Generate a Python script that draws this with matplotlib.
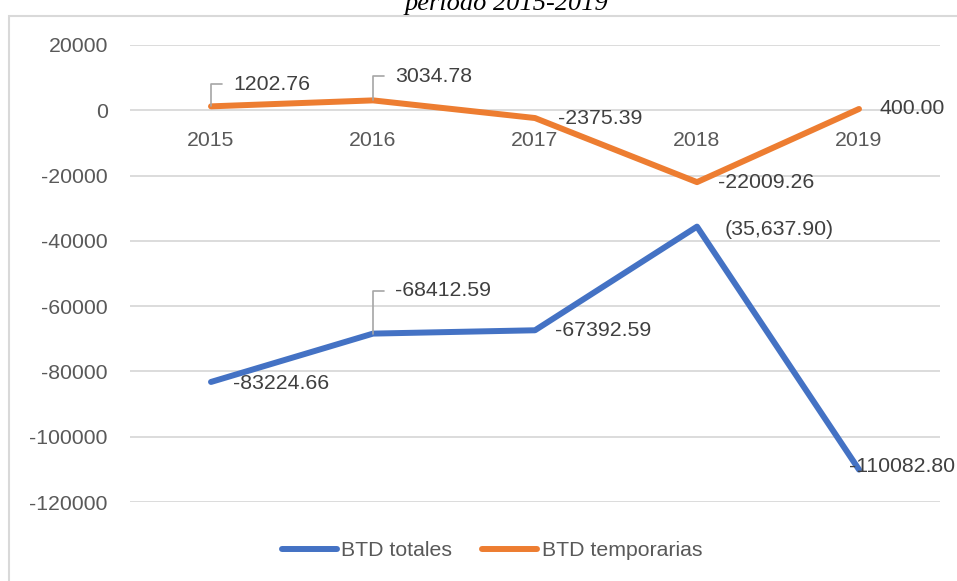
import matplotlib
matplotlib.use("Agg")
import matplotlib.pyplot as plt   # type: ignore
from matplotlib import font_manager
from matplotlib.patches import Rectangle

# data
years = ["2015", "2016", "2017", "2018", "2019"]
btd_totales = [-83224.66, -68412.59, -67392.59, -35637.90, -110082.80]
btd_temporarias = [1202.76, 3034.78, -2375.39, -22009.26, 400.00]
labels_totales = ["-83224.66", "-68412.59", "-67392.59", "(35,637.90)", "-110082.80"]
labels_temporarias = ["1202.76", "3034.78", "-2375.39", "-22009.26", "400.00"]
y_ticks = [20000, 0, -20000, -40000, -60000, -80000, -100000, -120000]

BLUE = "#4472C4"
ORANGE = "#ED7D31"
GRID = "#D9D9D9"
TXT = "#595959"
LBL = "#404040"

# pick a narrow sans (Calibri look) if there is one
names = {f.name for f in font_manager.fontManager.ttflist}
if "Liberation Sans Narrow" in names:
    FONT, FS = "Liberation Sans Narrow", 17.5
else:
    FONT, FS = "Liberation Sans", 15.3
plt.rcParams["font.family"] = [FONT, "DejaVu Sans"]

fig = plt.figure(figsize=(9.57, 5.81), dpi=100)
ax = fig.add_axes([130 / 957, 79 / 581, 810 / 957, 457 / 581])

x = list(range(len(years)))
ax.plot(x, btd_totales, color=BLUE, lw=4.3, solid_capstyle="round", label="BTD totales", zorder=3)
ax.plot(x, btd_temporarias, color=ORANGE, lw=4.3, solid_capstyle="round", label="BTD temporarias", zorder=3)

ax.set_xlim(-0.5, len(years) - 0.5)
ax.set_ylim(-120000, 20000)
ax.set_yticks(y_ticks)
ax.set_yticklabels([str(v) for v in y_ticks])
ax.set_xticks([])
ax.tick_params(axis="y", length=0, pad=16, labelsize=FS, labelcolor=TXT)
ax.grid(axis="y", color=GRID, lw=1.3)
ax.set_axisbelow(True)
for s in ax.spines.values():
    s.set_visible(False)

# category labels sit just under the zero line
for i, yr in enumerate(years):
    ax.annotate(yr, (i, 0), xytext=(0, -30), textcoords="offset pixels",
                ha="center", va="center", fontsize=FS, color=TXT)

# data labels: (index, offset) ; leader lines where Excel moved the label
leader = dict(arrowstyle="-", color="#A6A6A6", lw=1.2, relpos=(0, 0.5),
              connectionstyle="angle,angleA=0,angleB=90,rad=0", shrinkA=6, shrinkB=0)

temp_off = [(22, 22), (22, 24), (23, 0), (21, 0), (21, 0)]
temp_lead = [True, True, False, False, False]
for i, v in enumerate(btd_temporarias):
    ax.annotate(labels_temporarias[i], (i, v), xytext=temp_off[i], textcoords="offset pixels",
                ha="left", va="center", fontsize=FS, color=LBL, zorder=5,
                arrowprops=leader if temp_lead[i] else None, annotation_clip=False)

tot_off = [(22, -2), (22, 43), (20, 0), (28, -3), (-10, 3)]
tot_lead = [False, True, False, False, False]
for i, v in enumerate(btd_totales):
    ax.annotate(labels_totales[i], (i, v), xytext=tot_off[i], textcoords="offset pixels",
                ha="left", va="center", fontsize=FS, color=LBL, zorder=5,
                arrowprops=leader if tot_lead[i] else None, annotation_clip=False)

fig.legend(loc="center", bbox_to_anchor=(492 / 957, 30 / 581), ncol=2, frameon=False,
           fontsize=FS, labelcolor=TXT, handlelength=2.6, handletextpad=0.2,
           columnspacing=1.4)

# chart frame and the cut-off title
fig.add_artist(Rectangle((9 / 957, -0.1), 1.2, (565 / 581) + 0.1, transform=fig.transFigure,
                         fill=False, edgecolor=GRID, lw=1.5))
fig.text(608 / 957, 1 - 10 / 581, "periodo 2015-2019", ha="right", va="baseline",
         fontsize=19, fontstyle="italic", family="Liberation Serif", color="black")

fig.savefig("out.png", dpi=100)
